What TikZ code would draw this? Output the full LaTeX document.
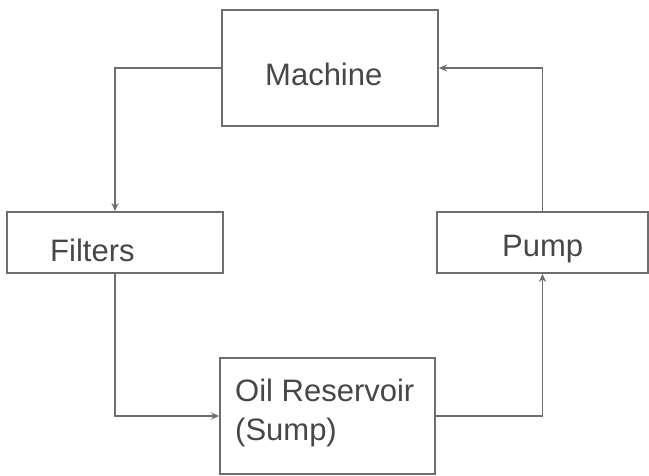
\documentclass[tikz,border=0pt]{standalone}
\usepackage{fontspec}
\setmainfont{Liberation Sans}
\usetikzlibrary{arrows.meta}
\definecolor{linegray}{HTML}{6E6E6E}
\definecolor{textgray}{HTML}{474747}
\begin{document}
\begin{tikzpicture}[x=1pt,y=-1pt,
  blockbox/.style={draw=linegray,line width=1.8pt,fill=white,inner sep=0pt,minimum width=#1},
  lbl/.style={anchor=base west,inner sep=0pt,text=textgray,font=\fontsize{31}{38}\selectfont},
  flow/.style={draw=linegray,line width=1.8pt,-{Stealth[length=8pt,width=7pt]}}]
\useasboundingbox[fill=white] (0,0) rectangle (649,476);
\node[blockbox=216pt,minimum height=116pt] (machine) at (330,68) {};
\node[blockbox=216pt,minimum height=61pt] (filters) at (115,242.5) {};
\node[blockbox=211pt,minimum height=61pt] (pump) at (542.5,242.5) {};
\node[blockbox=215pt,minimum height=116pt] (res) at (327.5,416) {};
\node[lbl] (tmachine) at (265,86) {Machine};
\node[lbl] (tfilters) at (50,262) {Filters};
\node[lbl] (tpump) at (502,257) {Pump};
\node[lbl] (tres1) at (235,402) {Oil Reservoir};
\node[lbl] (tres2) at (235,440) {(Sump)};
\draw[flow] (machine.west) -| (filters.north);
\draw[flow] (filters.south) |- (res.west);
\draw[flow] (res.east) -| (pump.south);
\draw[flow] (pump.north) |- (machine.east);
\end{tikzpicture}
\end{document}
